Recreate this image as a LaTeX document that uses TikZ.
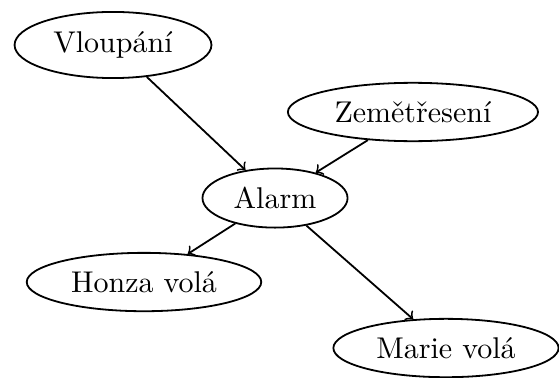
\documentclass[tikz,border=0pt]{standalone}
\usepackage{tikz}
\usetikzlibrary{positioning}
\usetikzlibrary{arrows, shapes, calc}

\begin{document}
\begin{tikzpicture}[semithick, uzel/.style={ellipse, draw}]
    % Pevne okraje obrazku
    \useasboundingbox (0,0) rectangle (6.549,-4.417);

    % Horni uzly: "Vloupání" a "Zemětřesení"
    \node[uzel] (vloupani) at (1.324,-0.527) {Vloupání};
    \node[uzel] (zemetreseni) at (4.838,-1.312) {Zemětřesení};

    % Prostredni uzel "Alarm"
    \node[uzel] (alarm) at (3.222,-2.320) {Alarm};

    % Dolni uzly: "Honza volá" a "Marie volá"
    \node[uzel] (honza) at (1.687,-3.304) {Honza volá};
    \node[uzel] (marie) at (5.225,-4.077) {Marie volá};

    % Sipky od pricin k alarmu
    \draw[->] (vloupani) -- (alarm);
    \draw[->] (zemetreseni) -- (alarm);

    % Sipky od alarmu k volajicim
    \draw[->] (alarm) -- (honza);
    \draw[->] (alarm) -- (marie);
\end{tikzpicture}
\end{document}
